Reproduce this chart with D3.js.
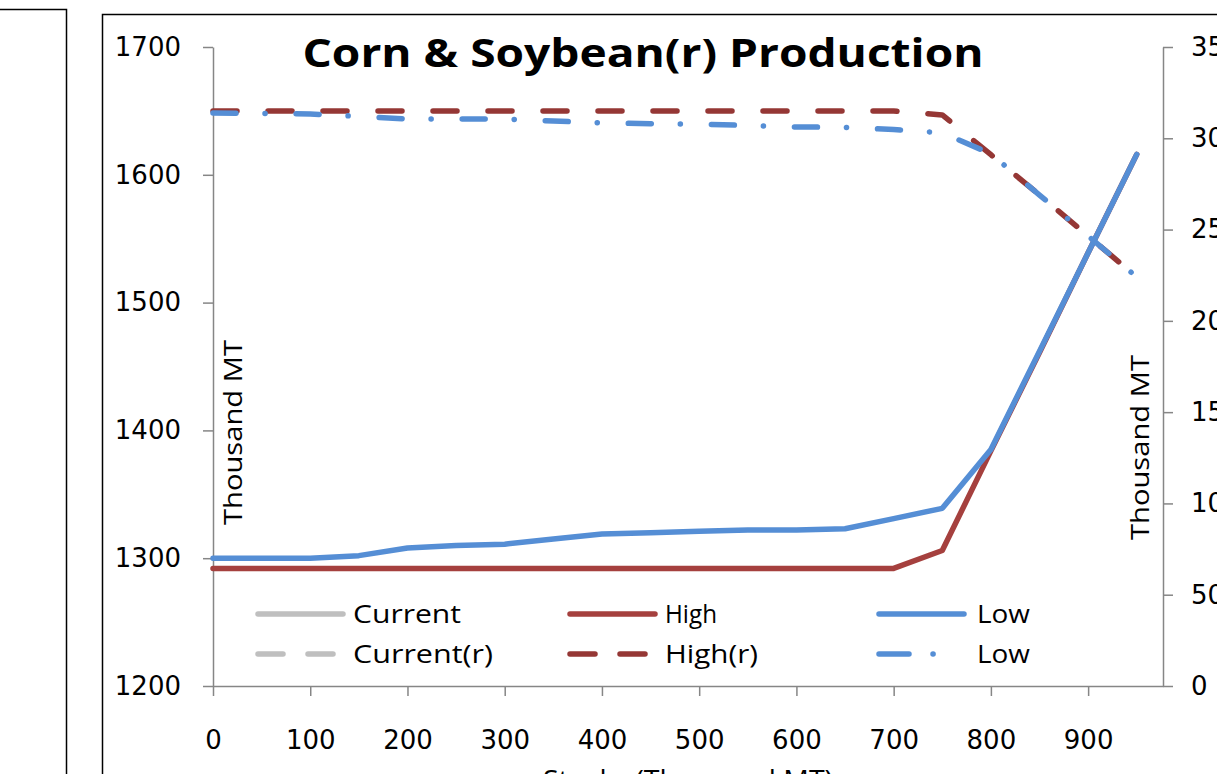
<!DOCTYPE html>
<html>
<head>
<meta charset="utf-8">
<script src="https://cdn.jsdelivr.net/npm/d3@7"></script>
<style>
  body { margin: 0; background: #fff; overflow: hidden; }
  .axis path, .axis line { stroke: #868686; stroke-width: 1.5; }
  .axis text { font-family: "DejaVu Sans", sans-serif; font-size: 26px; fill: #000; }
</style>
</head>
<body>
<svg class="plot" width="1217" height="774"></svg>
<script>
// data
var stocks = [0, 50, 100, 150, 200, 250, 300, 350, 400, 450, 500, 550, 600, 650, 700, 750, 800, 850, 900, 950];
var cornHigh = [1292, 1292, 1292, 1292, 1292, 1292, 1292, 1292, 1292, 1292, 1292, 1292, 1292, 1292, 1292, 1306, 1384, 1461, 1539, 1616];
var cornLow = [1300, 1300, 1300, 1302, 1308, 1310, 1311, 1315, 1319, 1320, 1321, 1322, 1322, 1323, 1331, 1339, 1385, 1462, 1539, 1616];
var soyHigh = [3150, 3150, 3150, 3150, 3150, 3150, 3150, 3150, 3150, 3150, 3150, 3150, 3150, 3150, 3150, 3128, 2910, 2689, 2465, 2240];
var soyLow = [3138, 3136, 3133, 3120, 3106, 3106, 3105, 3095, 3084, 3080, 3078, 3070, 3062, 3060, 3048, 3030, 2915, 2689, 2465, 2240];
var xTicks = [0, 100, 200, 300, 400, 500, 600, 700, 800, 900];
var leftTicks = [1200, 1300, 1400, 1500, 1600, 1700];
var rightTicks = [0, 500, 1000, 1500, 2000, 2500, 3000, 3500];
var legendRow1 = ["Current", "High", "Low"];
var legendRow2 = ["Current(r)", "High(r)", "Low"];

var svg = d3.select(".plot");

var gray = "#BFBFBF", red = "#A5403E", darkRed = "#953735", blue = "#558ED5";
var dashStyle = "24,31", dashDot = "23,29,0.1,31";

//scales
var x = d3.scaleLinear().domain([0, 977]).range([213, 1163]),
    yL = d3.scaleLinear().domain([1200, 1700]).range([686, 47]),
    yR = d3.scaleLinear().domain([0, 3500]).range([686, 47]);

//chart frames
svg.append("rect")
    .attr("x", -10).attr("y", 9.5).attr("width", 76.5).attr("height", 800)
    .style("fill", "none").style("stroke", "#000").style("stroke-width", 1.5);
svg.append("rect")
    .attr("x", 102.5).attr("y", 14.5).attr("width", 1200).attr("height", 800)
    .style("fill", "none").style("stroke", "#000").style("stroke-width", 1.5);

//axes
svg.append("g")
    .attr("class", "axis")
    .attr("transform", "translate(213,0)")
    .call(d3.axisLeft(yL).tickValues(leftTicks).tickFormat(d3.format("d"))
      .tickSize(10).tickSizeOuter(0).tickPadding(22));

svg.append("g")
    .attr("class", "axis")
    .attr("transform", "translate(1163,0)")
    .call(d3.axisRight(yR).tickValues(rightTicks).tickFormat(d3.format("d"))
      .tickSize(10).tickSizeOuter(0).tickPadding(18));

svg.append("g")
    .attr("class", "axis")
    .attr("transform", "translate(0,686)")
    .call(d3.axisBottom(x).tickValues(xTicks).tickFormat(d3.format("d"))
      .tickSize(10).tickSizeOuter(0).tickPadding(35));

svg.selectAll(".axis .domain").style("stroke", "#868686");

//lines
function drawLine(vals, scale, color, dash) {
  var line = d3.line()
      .x(function(d, i) { return x(stocks[i]); })
      .y(function(d) { return scale(d); });
  svg.append("path")
      .datum(vals)
      .attr("d", line)
      .style("fill", "none")
      .style("stroke", color)
      .style("stroke-width", 5.5)
      .style("stroke-linecap", "round")
      .style("stroke-linejoin", "round")
      .style("stroke-dasharray", dash || null);
}

drawLine(cornHigh, yL, red);
drawLine(cornLow, yL, blue);
drawLine(soyHigh, yR, darkRed, dashStyle);
drawLine(soyLow, yR, blue, dashDot);

//titles
svg.append("text")
    .attr("x", 643).attr("y", 67)
    .attr("text-anchor", "middle")
    .attr("textLength", 681).attr("lengthAdjust", "spacingAndGlyphs")
    .style("font-family", "Open Sans, sans-serif")
    .style("font-weight", "bold")
    .style("font-size", "40px")
    .text("Corn &  Soybean(r) Production");

svg.append("text")
    .attr("transform", "translate(242,525) rotate(-90)")
    .attr("textLength", 185).attr("lengthAdjust", "spacingAndGlyphs")
    .style("font-family", "Open Sans, sans-serif")
    .style("font-size", "25px")
    .text("Thousand MT");

svg.append("text")
    .attr("transform", "translate(1149,540) rotate(-90)")
    .attr("textLength", 185).attr("lengthAdjust", "spacingAndGlyphs")
    .style("font-family", "Open Sans, sans-serif")
    .style("font-size", "25px")
    .text("Thousand MT");

svg.append("text")
    .attr("x", 688).attr("y", 790)
    .attr("text-anchor", "middle")
    .attr("textLength", 290).attr("lengthAdjust", "spacingAndGlyphs")
    .style("font-family", "Open Sans, sans-serif")
    .style("font-size", "27px")
    .text("Stocks (Thousand MT)");

//legend
var legendX = [255, 567, 876];
var rows = [
  {labels: legendRow1, y: 614, colors: [gray, red, blue], dashes: [null, null, null]},
  {labels: legendRow2, y: 654, colors: [gray, darkRed, blue], dashes: ["25,25", "25,25", "30,24,0.1,40"]}
];
var textWidths = {"Current": 108, "High": 52, "Low": 53, "Current(r)": 140, "High(r)": 93};

rows.forEach(function(row) {
  row.labels.forEach(function(label, i) {
    svg.append("line")
        .attr("x1", legendX[i] + 3).attr("x2", legendX[i] + 88)
        .attr("y1", row.y).attr("y2", row.y)
        .style("stroke", row.colors[i])
        .style("stroke-width", 5.5)
        .style("stroke-linecap", "round")
        .style("stroke-dasharray", row.dashes[i]);
    svg.append("text")
        .attr("x", legendX[i] + 98 + (label == "Low" ? 3 : 0))
        .attr("y", row.y + 9)
        .attr("textLength", textWidths[label]).attr("lengthAdjust", "spacingAndGlyphs")
        .style("font-family", "Open Sans, sans-serif")
        .style("font-size", "25px")
        .text(label);
  });
});
</script>
</body>
</html>
